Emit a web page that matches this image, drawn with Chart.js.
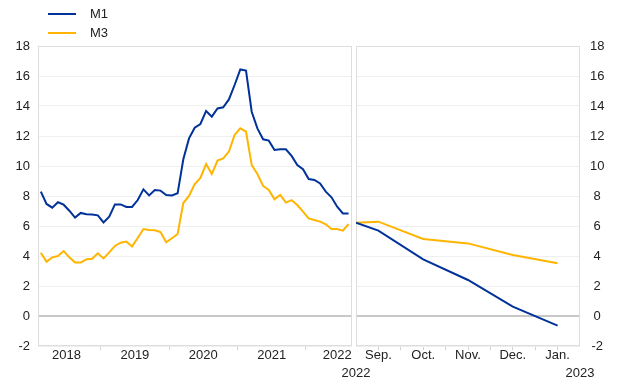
<!DOCTYPE html>
<html>
<head>
<meta charset="utf-8">
<script src="https://cdn.jsdelivr.net/npm/chart.js@4/dist/chart.umd.min.js"></script>
<style>
    html, body { margin: 0; padding: 0; background: #fff; }
    #wrap { position: relative; width: 620px; height: 387px; }
    #wrap canvas { position: absolute; left: 0; top: 0; }
    #leyenda { position: absolute; left: 48px; top: 4px; font: 13px Arial, "Liberation Sans", sans-serif; color: #222; }
    .item { display: flex; align-items: center; height: 19px; }
    .linea { width: 28px; height: 2px; margin-right: 14px; }
</style>
</head>
<body>
<div id="wrap">
    <canvas id="panelHist" width="620" height="387"></canvas>
    <canvas id="panelProy" width="620" height="387"></canvas>
    <div id="leyenda"></div>
</div>
<script>
// Historia mensual (indice de mes 0..54)
const m1Hist = [8.29, 7.47, 7.22, 7.58, 7.42, 7.02, 6.56, 6.87, 6.78, 6.76, 6.71, 6.24, 6.62, 7.44, 7.44,
    7.27, 7.27, 7.73, 8.44, 8.04, 8.40, 8.36, 8.07, 8.04, 8.18, 10.45, 11.84, 12.55, 12.80, 13.67,
    13.29, 13.84, 13.91, 14.44, 15.40, 16.44, 16.36, 13.62, 12.51, 11.78, 11.69, 11.07, 11.11, 11.11,
    10.67, 10.07, 9.78, 9.13, 9.07, 8.84, 8.29, 7.91, 7.29, 6.84, 6.84];
const m3Hist = [4.22, 3.62, 3.91, 4.00, 4.33, 3.91, 3.56, 3.56, 3.78, 3.82, 4.18, 3.84, 4.24, 4.67, 4.89,
    4.96, 4.64, 5.20, 5.80, 5.73, 5.71, 5.60, 4.91, 5.18, 5.47, 7.53, 8.00, 8.80, 9.20, 10.13,
    9.47, 10.36, 10.51, 10.96, 12.07, 12.51, 12.29, 10.07, 9.47, 8.67, 8.40, 7.78, 8.07, 7.56,
    7.73, 7.40, 6.96, 6.51, 6.40, 6.29, 6.11, 5.80, 5.80, 5.69, 6.13];
const yearLabels = ['2018', '2019', '2020', '2021', '2022'];
const yearTickPos = [4.5, 16.5, 28.5, 40.5, 52];
const yearBreaks = [10.5, 22.5, 34.5, 46.5];

// Panel derecho
const projX = [0.5, 1, 2, 3, 4, 5];
const m1Proj = [6.22, 5.69, 3.78, 2.40, 0.62, -0.64];
const m3Proj = [6.22, 6.29, 5.13, 4.84, 4.07, 3.51];
const monthLabels = ['Sep.', 'Oct.', 'Nov.', 'Dec.', 'Jan.'];
const edgeYears = ['2022', '2023'];

const seriesNames = ['M1', 'M3'];
const colores = ['#003299', '#ffb400'];

const fuente = { family: 'Arial, "Liberation Sans", sans-serif', size: 13 };
Chart.defaults.color = '#222';
Chart.defaults.font = fuente;

const marcoPanel = {
    id: 'marcoPanel',
    beforeDatasetsDraw(chart) {
        const { ctx, chartArea: a } = chart;
        ctx.save();
        ctx.strokeStyle = '#dddddd';
        ctx.lineWidth = 1;
        ctx.strokeRect(a.left + 0.5, a.top + 0.5, a.width - 1, a.height - 1);
        ctx.restore();
    }
};

function ejeY(posicion) {
    return {
        type: 'linear',
        position: posicion,
        min: -2,
        max: 18,
        border: { display: false },
        grid: {
            drawTicks: false,
            color: ctx => ctx.tick && ctx.tick.value === 0 ? '#c8c8c8' : '#efefef',
            lineWidth: ctx => ctx.tick && ctx.tick.value === 0 ? 2 : 1
        },
        ticks: {
            stepSize: 2,
            padding: posicion === 'left' ? 8 : 10,
            crossAlign: posicion === 'left' ? 'near' : 'center'
        },
        afterFit: s => { s.width = posicion === 'left' ? 38 : 40; }
    };
}

function lineas(datos) {
    return datos.map((serie, i) => ({
        label: seriesNames[i],
        data: serie,
        borderColor: colores[i],
        backgroundColor: colores[i],
        borderWidth: 2,
        pointRadius: 0,
        tension: 0,
        fill: false
    }));
}

const opcionesBase = {
    responsive: false,
    animation: false,
    plugins: { legend: { display: false }, tooltip: { enabled: false } }
};

new Chart(document.getElementById('panelHist'), {
    type: 'line',
    data: {
        datasets: lineas([m1Hist, m3Hist]).map(d => ({ ...d, data: d.data.map((v, i) => ({ x: i, y: v })) }))
    },
    options: {
        ...opcionesBase,
        layout: { padding: { left: 0, top: 46, right: 268, bottom: 0 } },
        scales: {
            x: {
                type: 'linear',
                min: -0.5,
                max: 54.6,
                border: { display: false },
                grid: {
                    drawOnChartArea: false,
                    tickLength: 4,
                    color: ctx => ctx.tick && yearBreaks.includes(ctx.tick.value) ? '#d0d0d0' : 'rgba(0,0,0,0)'
                },
                afterBuildTicks: s => {
                    s.ticks = yearTickPos.concat(yearBreaks).sort((a, b) => a - b).map(v => ({ value: v }));
                },
                ticks: {
                    autoSkip: false,
                    maxRotation: 0,
                    padding: -2,
                    callback: v => {
                        const k = yearTickPos.indexOf(v);
                        return k >= 0 ? yearLabels[k] : '';
                    }
                },
                afterFit: s => { s.height = 41; }
            },
            y: ejeY('left')
        }
    },
    plugins: [marcoPanel]
});

new Chart(document.getElementById('panelProy'), {
    type: 'line',
    data: {
        datasets: lineas([m1Proj, m3Proj]).map(d => ({ ...d, data: d.data.map((v, i) => ({ x: projX[i], y: v })) }))
    },
    options: {
        ...opcionesBase,
        layout: { padding: { left: 356, top: 46, right: 0, bottom: 0 } },
        scales: {
            x: {
                type: 'linear',
                position: 'bottom',
                weight: 0,
                min: 0.5,
                max: 5.5,
                border: { display: false },
                grid: { drawOnChartArea: false, tickLength: 4, color: '#d0d0d0' },
                afterBuildTicks: s => {
                    const t = [];
                    for (let v = 1; v <= monthLabels.length; v += 0.5) t.push({ value: v });
                    s.ticks = t;
                },
                ticks: {
                    autoSkip: false,
                    maxRotation: 0,
                    padding: -2,
                    callback: v => Number.isInteger(v) ? monthLabels[v - 1] : ''
                },
                afterFit: s => { s.height = 20; }
            },
            anios: {
                type: 'linear',
                position: 'bottom',
                weight: 1,
                min: 0.5,
                max: 5.5,
                border: { display: false },
                grid: { display: false, drawTicks: false },
                afterBuildTicks: s => { s.ticks = [{ value: 0.5 }, { value: 5.5 }]; },
                ticks: {
                    autoSkip: false,
                    maxRotation: 0,
                    padding: 0,
                    callback: v => v === 0.5 ? edgeYears[0] : edgeYears[1]
                },
                afterFit: s => { s.height = 21; }
            },
            y: ejeY('right')
        }
    },
    plugins: [marcoPanel]
});

// Leyenda en HTML
const leyenda = document.getElementById('leyenda');
seriesNames.forEach((nombre, i) => {
    const fila = document.createElement('div');
    fila.className = 'item';
    fila.innerHTML = `<span class="linea" style="background:${colores[i]}"></span><span>${nombre}</span>`;
    leyenda.appendChild(fila);
});
</script>
</body>
</html>
